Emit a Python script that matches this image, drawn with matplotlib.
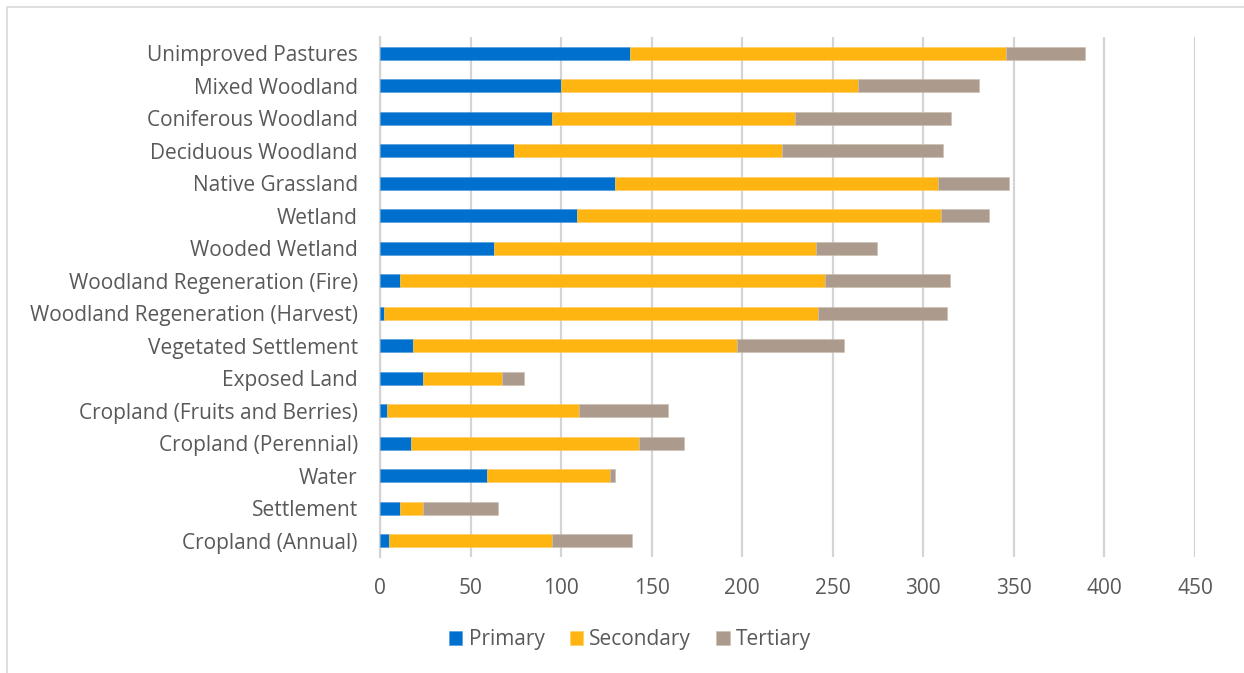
import numpy as np
import matplotlib.pyplot as plt
from matplotlib.patches import Rectangle

categorie = [
    'Unimproved Pastures', 'Mixed Woodland', 'Coniferous Woodland',
    'Deciduous Woodland', 'Native Grassland', 'Wetland', 'Wooded Wetland',
    'Woodland Regeneration (Fire)', 'Woodland Regeneration (Harvest)',
    'Vegetated Settlement', 'Exposed Land', 'Cropland (Fruits and Berries)',
    'Cropland (Perennial)', 'Water', 'Settlement', 'Cropland (Annual)',
]
primary = [138, 100, 95, 74, 130, 109, 63, 11, 2, 18, 24, 4, 17, 59, 11, 5]
secondary = [207.5, 164, 134, 148, 178, 201, 177.5, 234.5, 240, 179, 43.5, 106, 126, 68, 13, 90]
tertiary = [44, 67, 86, 89, 39.5, 26, 34, 69, 71, 59, 12, 49, 25, 3, 41, 44]
x_ticks = [0, 50, 100, 150, 200, 250, 300, 350, 400, 450]

plt.rcParams['font.family'] = ['Open Sans', 'DejaVu Sans']
kolor_tekstu = '#595959'

fig = plt.figure(figsize=(12.44, 6.73), dpi=100)
ax = fig.add_axes([380 / 1244, 1 - 557 / 673, 815 / 1244, 520 / 673])

y = np.arange(len(categorie))[::-1]
p = np.array(primary)
s = np.array(secondary)
t = np.array(tertiary)
h = 0.4
ax.barh(y, p, height=h, color='#0070CE', edgecolor='#4A97DD', linewidth=0.4, label='Primary', zorder=3)
ax.barh(y, s, left=p, height=h, color='#FFB511', edgecolor='#FFCC60', linewidth=0.4, label='Secondary', zorder=3)
ax.barh(y, t, left=p + s, height=h, color='#AC9B8C', edgecolor='#C9BEB3', linewidth=0.4, label='Tertiary', zorder=3)

ax.set_xlim(0, 450)
ax.set_ylim(-0.5, len(categorie) - 0.5)
ax.set_xticks(x_ticks)
ax.set_xticklabels([str(v) for v in x_ticks])
ax.set_yticks(y)
ax.set_yticklabels(categorie)
ax.tick_params(axis='both', length=0, labelsize=15, colors=kolor_tekstu)
ax.tick_params(axis='x', pad=15)
ax.tick_params(axis='y', pad=16)
ax.xaxis.grid(True, color='#D4D4D4', linewidth=1.6, zorder=0)
for sp in ['top', 'right', 'bottom']:
    ax.spines[sp].set_visible(False)
ax.spines['left'].set_color('#D4D4D4')
ax.spines['left'].set_linewidth(1.6)

leg = fig.legend(loc='center', bbox_to_anchor=(630 / 1244, 1 - 640 / 673), ncol=3,
                 frameon=False, fontsize=15, handlelength=0.65, handleheight=0.65,
                 handletextpad=0.3, columnspacing=1.2)
for txt in leg.get_texts():
    txt.set_color(kolor_tekstu)

fig.patches.append(Rectangle((7 / 1244, -0.01), 1.0, 1 - 7 / 673 + 0.01, transform=fig.transFigure,
                             fill=False, edgecolor='#D9D9D9', linewidth=1.2))

fig.savefig('out.png', dpi=100)
